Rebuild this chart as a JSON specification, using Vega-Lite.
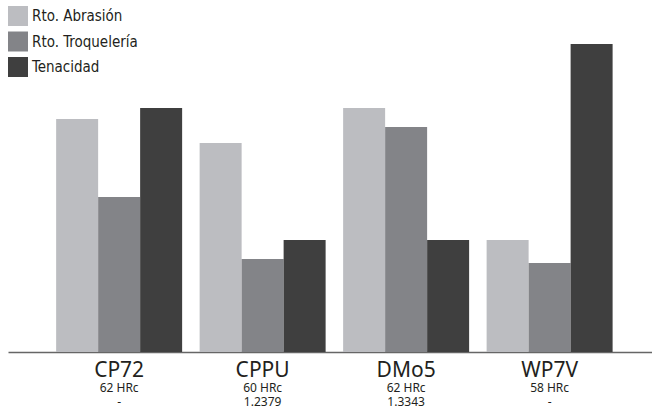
{
  "$schema": "https://vega.github.io/schema/vega-lite/v6.json",
  "width": 644,
  "height": 352,
  "autosize": {"type": "none"},
  "padding": {"left": 8, "top": 0, "right": 0, "bottom": 58},
  "background": "#ffffff",
  "config": {"view": {"stroke": null}, "font": "Noto Sans"},
  "data": {
    "values": [
      {"acero": "CP72", "sub": "62 HRc|-", "serie": "Rto. Abrasión", "valor": 66.2},
      {"acero": "CP72", "sub": "62 HRc|-", "serie": "Rto. Troquelería", "valor": 44.0},
      {"acero": "CP72", "sub": "62 HRc|-", "serie": "Tenacidad", "valor": 69.3},
      {"acero": "CPPU", "sub": "60 HRc|1.2379", "serie": "Rto. Abrasión", "valor": 59.4},
      {"acero": "CPPU", "sub": "60 HRc|1.2379", "serie": "Rto. Troquelería", "valor": 26.4},
      {"acero": "CPPU", "sub": "60 HRc|1.2379", "serie": "Tenacidad", "valor": 31.8},
      {"acero": "DMo5", "sub": "62 HRc|1.3343", "serie": "Rto. Abrasión", "valor": 69.3},
      {"acero": "DMo5", "sub": "62 HRc|1.3343", "serie": "Rto. Troquelería", "valor": 63.9},
      {"acero": "DMo5", "sub": "62 HRc|1.3343", "serie": "Tenacidad", "valor": 31.8},
      {"acero": "WP7V", "sub": "58 HRc|-", "serie": "Rto. Abrasión", "valor": 31.8},
      {"acero": "WP7V", "sub": "58 HRc|-", "serie": "Rto. Troquelería", "valor": 25.3},
      {"acero": "WP7V", "sub": "58 HRc|-", "serie": "Tenacidad", "valor": 87.5}
    ]
  },
  "layer": [
    {
      "mark": {"type": "bar"},
      "encoding": {
        "x": {
          "field": "acero",
          "type": "nominal",
          "sort": ["CP72", "CPPU", "DMo5", "WP7V"],
          "scale": {"paddingInner": 0.122, "paddingOuter": 0.305, "align": 0.55},
          "axis": {
            "title": null,
            "orient": "bottom",
            "ticks": false,
            "labelAngle": 0,
            "labelFont": "Noto Sans",
            "labelFontSize": 21,
            "labelColor": "#231f20",
            "labelPadding": 7,
            "domainColor": "#666666",
            "domainWidth": 1.5
          }
        },
        "xOffset": {
          "field": "serie",
          "type": "nominal",
          "sort": ["Rto. Abrasión", "Rto. Troquelería", "Tenacidad"],
          "scale": {"paddingInner": 0, "paddingOuter": 0}
        },
        "y": {
          "field": "valor",
          "type": "quantitative",
          "scale": {"domain": [0, 100]},
          "axis": null
        },
        "color": {
          "field": "serie",
          "type": "nominal",
          "scale": {
            "domain": ["Rto. Abrasión", "Rto. Troquelería", "Tenacidad"],
            "range": ["#bcbdc1", "#838488", "#3f3f3f"]
          },
          "legend": {
            "title": null,
            "orient": "none",
            "legendX": 0,
            "legendY": 6,
            "padding": 0,
            "symbolType": "square",
            "symbolSize": 400,
            "symbolStrokeWidth": 0,
            "symbolOpacity": 1,
            "labelFont": "DejaVu Sans Condensed, Noto Sans",
            "labelFontSize": 15,
            "labelColor": "#231f20",
            "labelOffset": 4,
            "rowPadding": 5.5
          }
        }
      }
    },
    {
      "mark": {"type": "tick", "opacity": 0},
      "encoding": {
        "x": {
          "field": "sub",
          "type": "nominal",
          "sort": ["62 HRc|-", "60 HRc|1.2379", "62 HRc|1.3343", "58 HRc|-"],
          "scale": {"paddingInner": 0.122, "paddingOuter": 0.305, "align": 0.55},
          "axis": {
            "title": null,
            "orient": "bottom",
            "ticks": false,
            "domain": false,
            "labelAngle": 0,
            "labelExpr": "split(datum.label, '|')",
            "labelFont": "Noto Sans",
            "labelFontSize": 12,
            "labelLineHeight": 14,
            "labelColor": "#231f20",
            "labelPadding": 30
          }
        },
        "y": {"datum": 0, "type": "quantitative"}
      }
    }
  ],
  "resolve": {"scale": {"x": "independent"}, "axis": {"x": "independent"}}
}
